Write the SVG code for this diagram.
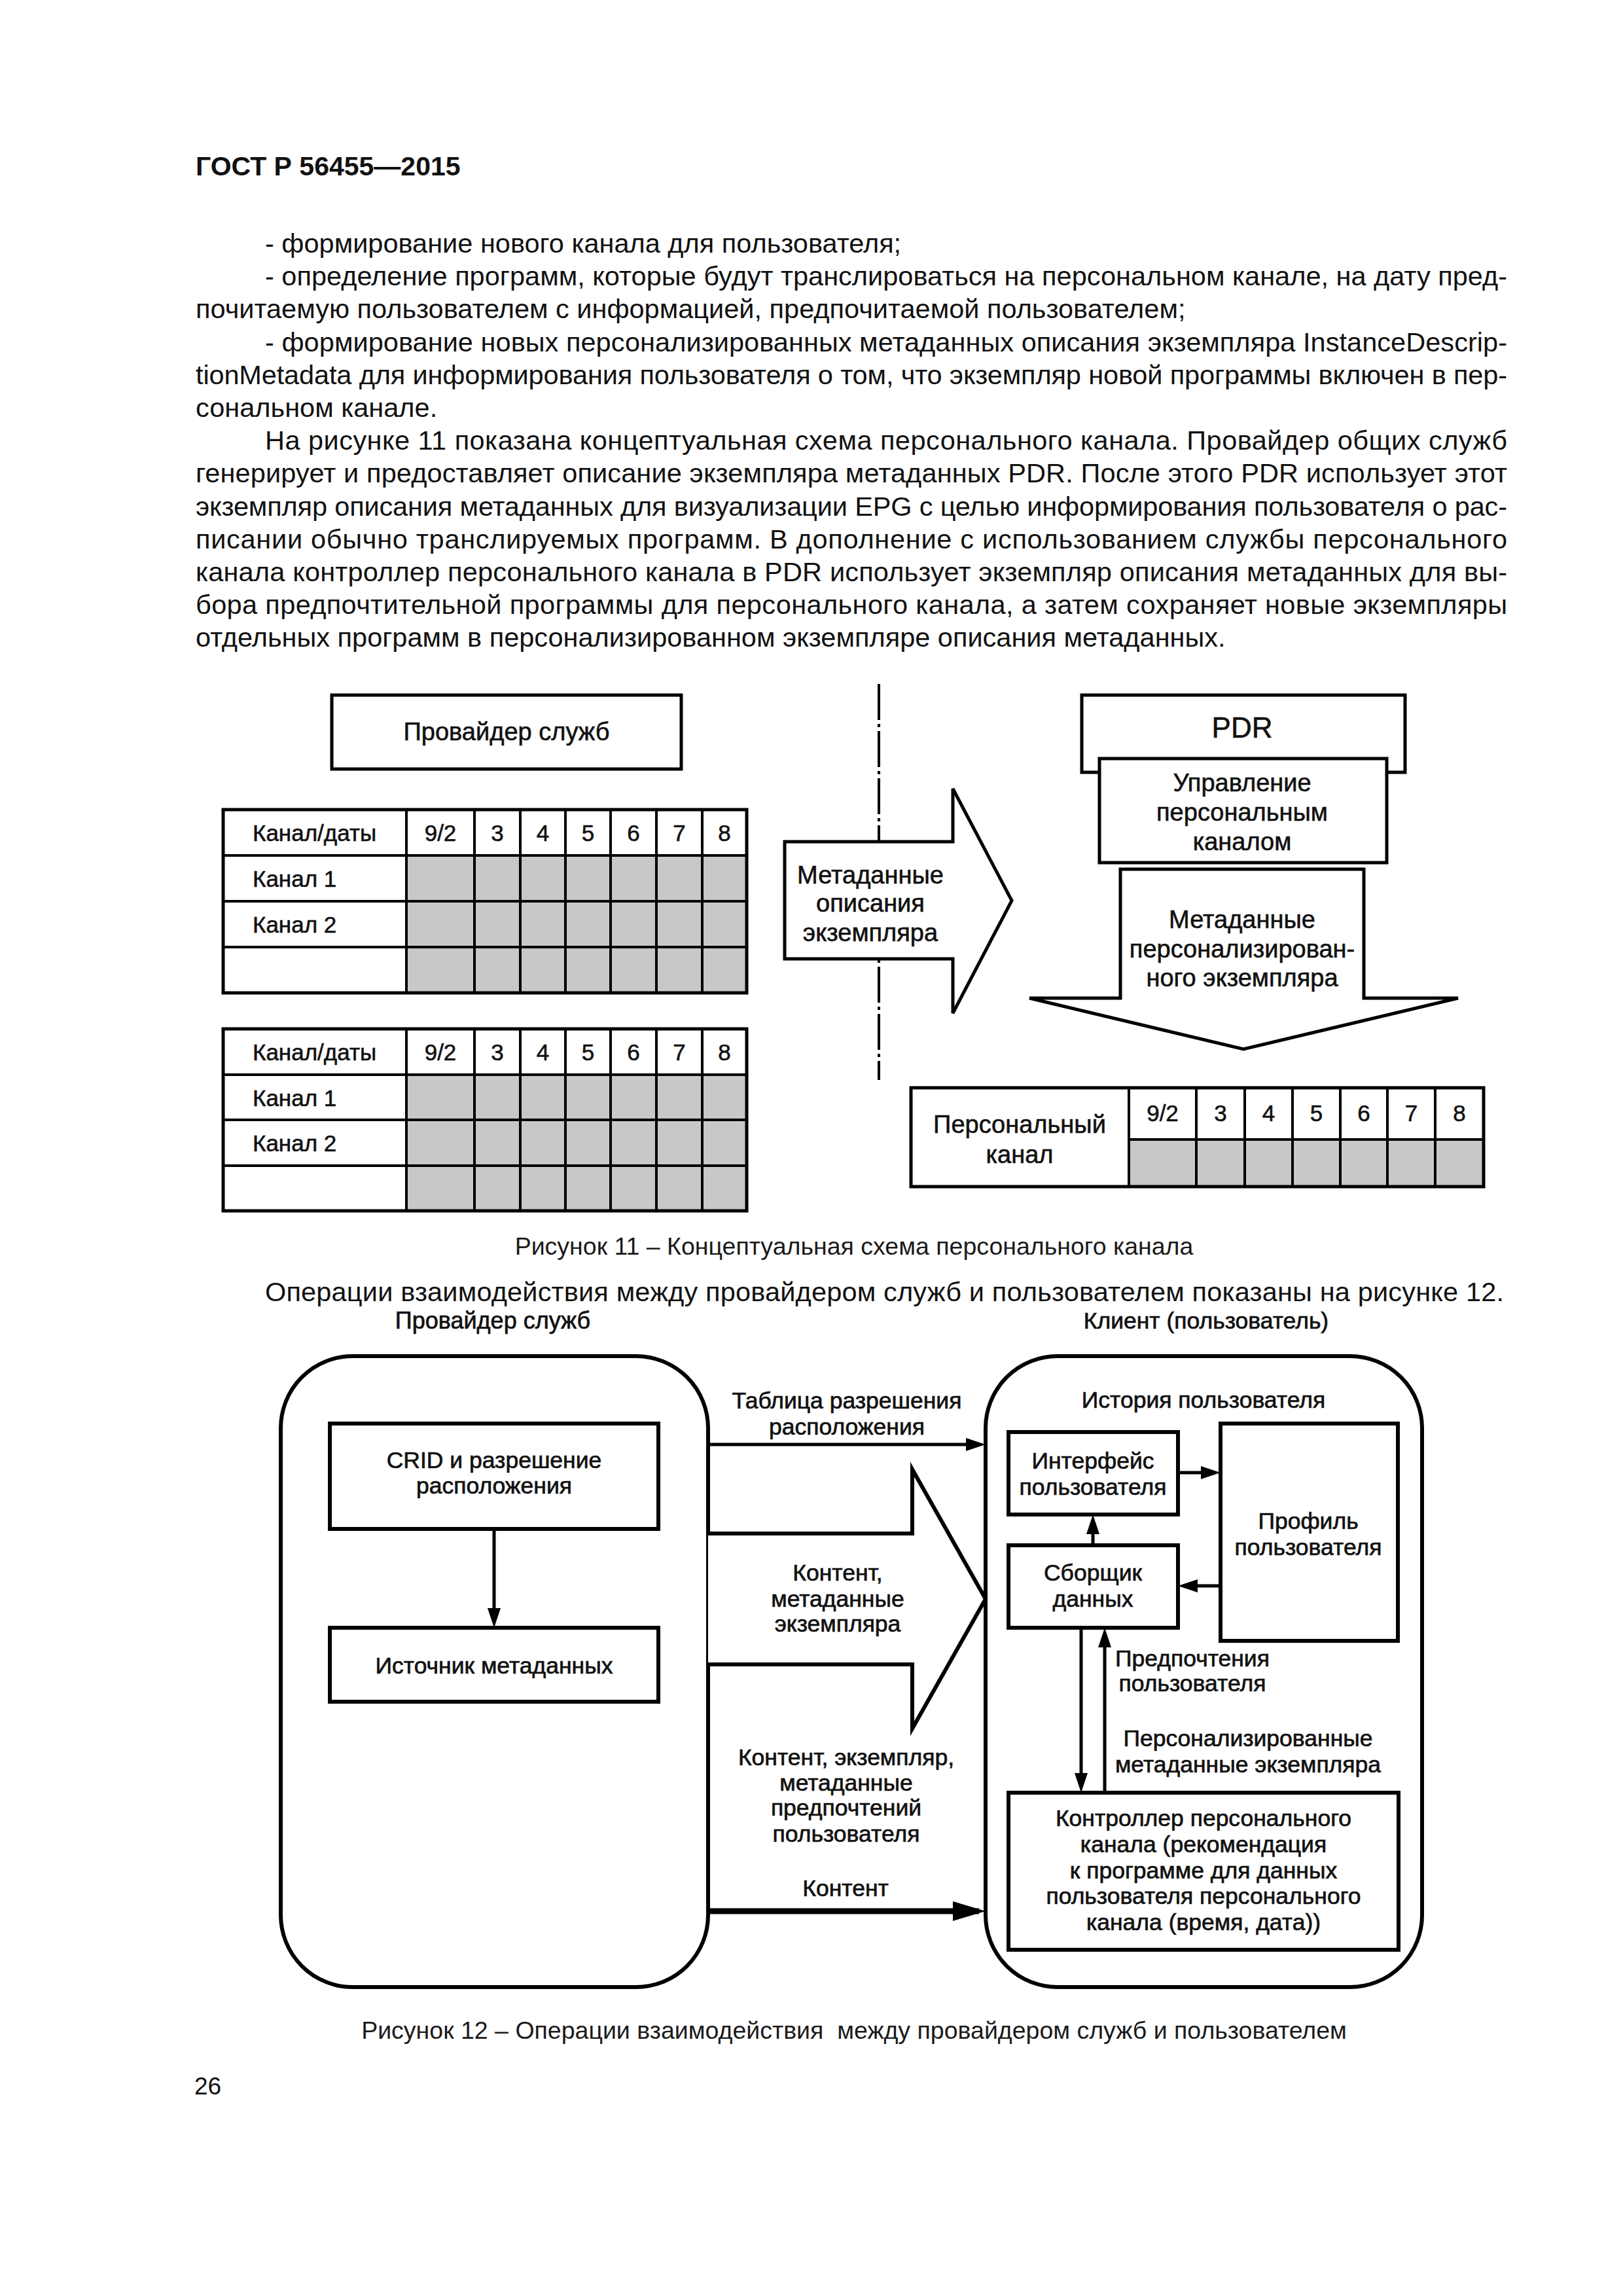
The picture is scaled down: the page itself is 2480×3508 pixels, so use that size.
<svg xmlns="http://www.w3.org/2000/svg" width="2480" height="3508" viewBox="0 0 2480 3508">
<style>
text{font-family:"Liberation Sans",Arial,sans-serif;fill:#111}
.hdr{font-size:41px;font-weight:bold}
.body{font-size:41.5px}
.t35{font-size:35px;stroke:#111;stroke-width:0.6}
.t38{font-size:38px;stroke:#111;stroke-width:0.6}
.t44{font-size:44px;stroke:#111;stroke-width:0.6}
.t34{font-size:35.5px;stroke:#111;stroke-width:0.7}
.cap{font-size:37.5px;fill:#1a1a1a}
.c{text-anchor:middle}
.box{fill:#fff;stroke:#000;stroke-width:5}
.box6{fill:#fff;stroke:#000;stroke-width:6}
.ln{stroke:#000;stroke-width:4;fill:none}
.gray{fill:#c8c8c8}
.con{stroke:#000;stroke-width:5;fill:none}
</style>
<defs>
<marker id="ah" markerUnits="userSpaceOnUse" markerWidth="30" markerHeight="20" refX="20" refY="10" orient="auto"><path d="M0,0 L30,10 L0,20 z" fill="#000"/></marker>
<marker id="ahBig" markerUnits="userSpaceOnUse" markerWidth="50" markerHeight="30" refX="40" refY="15" orient="auto"><path d="M0,0 L50,15 L0,30 z" fill="#000"/></marker>
</defs>
<rect width="2480" height="3508" fill="#fff"/>

<g id="page-text">
<text class="hdr" x="299" y="268">ГОСТ Р 56455—2015</text>
<text class="body" x="405" y="386">- формирование нового канала для пользователя;</text>
<text class="body" x="405" y="436" textLength="1898" lengthAdjust="spacing">- определение программ, которые будут транслироваться на персональном канале, на дату пред-</text>
<text class="body" x="299" y="486">почитаемую пользователем с информацией, предпочитаемой пользователем;</text>
<text class="body" x="405" y="537" textLength="1898" lengthAdjust="spacing">- формирование новых персонализированных метаданных описания экземпляра InstanceDescrip-</text>
<text class="body" x="299" y="587" textLength="2004" lengthAdjust="spacing">tionMetadata для информирования пользователя о том, что экземпляр новой программы включен в пер-</text>
<text class="body" x="299" y="637">сональном канале.</text>
<text class="body" x="405" y="687" textLength="1898" lengthAdjust="spacing">На рисунке 11 показана концептуальная схема персонального канала. Провайдер общих служб</text>
<text class="body" x="299" y="737" textLength="2004" lengthAdjust="spacing">генерирует и предоставляет описание экземпляра метаданных PDR. После этого PDR использует этот</text>
<text class="body" x="299" y="788" textLength="2004" lengthAdjust="spacing">экземпляр описания метаданных для визуализации EPG с целью информирования пользователя о рас-</text>
<text class="body" x="299" y="838" textLength="2004" lengthAdjust="spacing">писании обычно транслируемых программ. В дополнение с использованием службы персонального</text>
<text class="body" x="299" y="888" textLength="2004" lengthAdjust="spacing">канала контроллер персонального канала в PDR использует экземпляр описания метаданных для вы-</text>
<text class="body" x="299" y="938" textLength="2004" lengthAdjust="spacing">бора предпочтительной программы для персонального канала, а затем сохраняет новые экземпляры</text>
<text class="body" x="299" y="988">отдельных программ в персонализированном экземпляре описания метаданных.</text>
<text class="cap c" x="1305" y="1917">Рисунок 11 – Концептуальная схема персонального канала</text>
<text class="body" x="405" y="1988" textLength="1893" lengthAdjust="spacing">Операции взаимодействия между провайдером служб и пользователем показаны на рисунке 12.</text>
<text class="cap c" x="1305" y="3115" style="white-space:pre">Рисунок 12 – Операции взаимодействия  между провайдером служб и пользователем</text>
<text class="body" x="297" y="3200" style="font-size:37px">26</text>
</g>

<!-- Figure 11 -->
<g id="fig11-divider">
<line x1="1343" y1="1045" x2="1343" y2="1650" stroke="#000" stroke-width="4" stroke-dasharray="55 6 5 6"/>
</g>

<g id="f11-provider">
<rect class="box" x="507" y="1062" width="534" height="113"/>
<text class="t38 c" x="774" y="1131">Провайдер служб</text>
</g>

<g id="f11-table1">
<rect class="gray" x="621" y="1307" width="520" height="210"/>
<rect x="341" y="1237" width="800" height="280" style="fill:none;stroke:#000;stroke-width:5"/>
<path class="ln" d="M341,1307H1141M341,1377H1141M341,1447H1141M621,1237V1517M725,1237V1517M795,1237V1517M864,1237V1517M933,1237V1517M1003,1237V1517M1073,1237V1517"/>
<text class="t35" x="386" y="1285">Канал/даты</text>
<text class="t35" x="386" y="1355">Канал 1</text>
<text class="t35" x="386" y="1425">Канал 2</text>
<text class="t35 c" x="673" y="1285">9/2</text>
<text class="t35 c" x="760" y="1285">3</text>
<text class="t35 c" x="829.5" y="1285">4</text>
<text class="t35 c" x="898.5" y="1285">5</text>
<text class="t35 c" x="968" y="1285">6</text>
<text class="t35 c" x="1038" y="1285">7</text>
<text class="t35 c" x="1107" y="1285">8</text>
</g>

<g id="f11-table2">
<rect class="gray" x="621" y="1642" width="520" height="208"/>
<rect x="341" y="1572" width="800" height="278" style="fill:none;stroke:#000;stroke-width:5"/>
<path class="ln" d="M341,1642H1141M341,1711H1141M341,1781H1141M621,1572V1850M725,1572V1850M795,1572V1850M864,1572V1850M933,1572V1850M1003,1572V1850M1073,1572V1850"/>
<text class="t35" x="386" y="1620">Канал/даты</text>
<text class="t35" x="386" y="1690">Канал 1</text>
<text class="t35" x="386" y="1759">Канал 2</text>
<text class="t35 c" x="673" y="1620">9/2</text>
<text class="t35 c" x="760" y="1620">3</text>
<text class="t35 c" x="829.5" y="1620">4</text>
<text class="t35 c" x="898.5" y="1620">5</text>
<text class="t35 c" x="968" y="1620">6</text>
<text class="t35 c" x="1038" y="1620">7</text>
<text class="t35 c" x="1107" y="1620">8</text>
</g>

<g id="f11-metadata-arrow">
<polygon class="box" points="1199,1286 1456,1286 1456,1205 1546,1376 1456,1548 1456,1465 1199,1465"/>
<text class="t38 c" x="1330" y="1350">Метаданные</text>
<text class="t38 c" x="1330" y="1393">описания</text>
<text class="t38 c" x="1330" y="1438">экземпляра</text>
</g>

<g id="f11-pdr">
<rect class="box" x="1653" y="1062" width="494" height="118"/>
<text class="t44 c" x="1898" y="1127">PDR</text>
</g>

<g id="f11-control">
<rect class="box" x="1680" y="1159" width="439" height="159"/>
<text class="t38 c" x="1898" y="1209">Управление</text>
<text class="t38 c" x="1898" y="1254">персональным</text>
<text class="t38 c" x="1898" y="1299">каналом</text>
</g>

<g id="f11-personal-arrow">
<polygon class="box" points="1712,1328 2084,1328 2084,1525 2228,1525 1900,1603 1573,1525 1712,1525"/>
<text class="t38 c" x="1898" y="1418">Метаданные</text>
<text class="t38 c" x="1898" y="1463">персонализирован-</text>
<text class="t38 c" x="1898" y="1507">ного экземпляра</text>
</g>

<g id="f11-personal-table">
<rect class="gray" x="1725" y="1741" width="542" height="72"/>
<rect x="1392" y="1662" width="875" height="151" style="fill:none;stroke:#000;stroke-width:5"/>
<path class="ln" d="M1725,1741H2267M1725,1662V1813M1828,1662V1813M1902,1662V1813M1975,1662V1813M2048,1662V1813M2120,1662V1813M2193,1662V1813"/>
<text class="t38 c" x="1558" y="1731">Персональный</text>
<text class="t38 c" x="1558" y="1777">канал</text>
<text class="t35 c" x="1776.5" y="1713">9/2</text>
<text class="t35 c" x="1865" y="1713">3</text>
<text class="t35 c" x="1938.5" y="1713">4</text>
<text class="t35 c" x="2011.5" y="1713">5</text>
<text class="t35 c" x="2084" y="1713">6</text>
<text class="t35 c" x="2156.5" y="1713">7</text>
<text class="t35 c" x="2230" y="1713">8</text>
</g>

<!-- Figure 12 -->
<g id="f12-provider">
<text class="t34 c" x="753" y="2030" style="font-size:36px">Провайдер служб</text>
<rect class="box6" x="429" y="2072" width="653" height="964" rx="110" ry="110"/>
</g>

<g id="f12-client">
<text class="t34 c" x="1843" y="2030">Клиент (пользователь)</text>
<rect class="box6" x="1506" y="2072" width="667" height="964" rx="110" ry="110"/>
<text class="t34 c" x="1839" y="2151">История пользователя</text>
</g>

<g id="f12-crid">
<rect class="box6" x="504" y="2175" width="502" height="161"/>
<text class="t34 c" x="755" y="2243">CRID и разрешение</text>
<text class="t34 c" x="755" y="2282">расположения</text>
</g>

<g id="f12-source">
<rect class="box6" x="504" y="2487" width="502" height="113"/>
<text class="t34 c" x="755" y="2557">Источник метаданных</text>
</g>

<g id="f12-ui">
<rect class="box6" x="1541" y="2188" width="259" height="126"/>
<text class="t34 c" x="1670" y="2244">Интерфейс</text>
<text class="t34 c" x="1670" y="2284">пользователя</text>
</g>

<g id="f12-profile">
<rect class="box6" x="1865" y="2175" width="271" height="332"/>
<text class="t34 c" x="1999" y="2336">Профиль</text>
<text class="t34 c" x="1999" y="2376">пользователя</text>
</g>

<g id="f12-collector">
<rect class="box6" x="1541" y="2361" width="259" height="126"/>
<text class="t34 c" x="1670" y="2415">Сборщик</text>
<text class="t34 c" x="1670" y="2455">данных</text>
</g>

<g id="f12-controller">
<rect class="box6" x="1541" y="2739" width="596" height="240"/>
<text class="t34 c" x="1839" y="2790">Контроллер персонального</text>
<text class="t34 c" x="1839" y="2830">канала (рекомендация</text>
<text class="t34 c" x="1839" y="2870">к программе для данных</text>
<text class="t34 c" x="1839" y="2909">пользователя персонального</text>
<text class="t34 c" x="1839" y="2949">канала (время, дата))</text>
</g>

<g id="connectors">
<path class="con" d="M755,2336 V2477" marker-end="url(#ah)"/>
<path class="con" d="M1082,2207 H1496" marker-end="url(#ah)"/>
<polyline points="1082,2343 1394,2343 1394,2245 1506,2443 1394,2641 1394,2543 1082,2543" style="fill:#fff;stroke:#000;stroke-width:6;stroke-linejoin:miter"/>
<path d="M1082,2920 H1496" style="stroke:#000;stroke-width:9;fill:none" marker-end="url(#ahBig)"/>
<path class="con" d="M1800,2250 H1855" marker-end="url(#ah)"/>
<path class="con" d="M1865,2423 H1810" marker-end="url(#ah)"/>
<path class="con" d="M1670,2361 V2324" marker-end="url(#ah)"/>
<path class="con" d="M1652,2487 V2729" marker-end="url(#ah)"/>
<path class="con" d="M1688,2739 V2497" marker-end="url(#ah)"/>
<text class="t34 c" x="1294" y="2152">Таблица разрешения</text>
<text class="t34 c" x="1294" y="2192">расположения</text>
<text class="t34 c" x="1280" y="2415">Контент,</text>
<text class="t34 c" x="1280" y="2455">метаданные</text>
<text class="t34 c" x="1280" y="2493">экземпляра</text>
<text class="t34 c" x="1293" y="2697">Контент, экземпляр,</text>
<text class="t34 c" x="1293" y="2736">метаданные</text>
<text class="t34 c" x="1293" y="2774">предпочтений</text>
<text class="t34 c" x="1293" y="2814">пользователя</text>
<text class="t34 c" x="1292" y="2897">Контент</text>
<text class="t34 c" x="1822" y="2546">Предпочтения</text>
<text class="t34 c" x="1822" y="2584">пользователя</text>
<text class="t34 c" x="1907" y="2668">Персонализированные</text>
<text class="t34 c" x="1907" y="2708">метаданные экземпляра</text>
</g>
</svg>
